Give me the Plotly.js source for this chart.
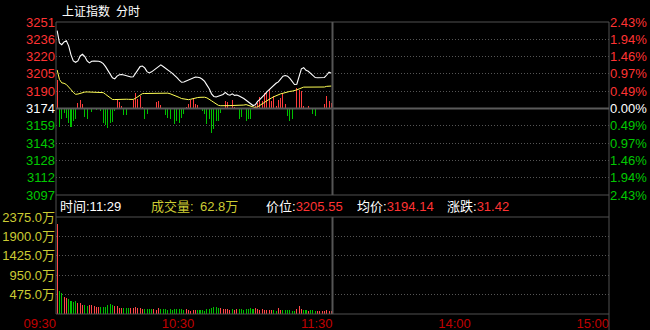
<!DOCTYPE html>
<html><head><meta charset="utf-8">
<script src="https://cdn.plot.ly/plotly-3.0.1.min.js"></script>
<style>html,body{margin:0;padding:0;background:#000;}#c{width:650px;height:330px;}</style>
</head><body><div id="c"></div>
<script>
// ---------- data ----------
const preClose = 3174.13;
const maxPct = 2.43;
const tickSteps = [5,4,3,2,1,0,-1,-2,-3,-4,-5];
const priceTickText = ['3251','3236','3220','3205','3190','3174','3159','3143','3128','3112','3097'];
const pctTickText = ['2.43%','1.94%','1.46%','0.97%','0.49%','0.00%','0.49%','0.97%','1.46%','1.94%','2.43%'];
const timeTickVals = [0,60,120,180,240];
const timeTickText = ['09:30','10:30','11:30','14:00','15:00'];
const volTickVals = [475,950,1425,1900,2375];
const volTickText = ['475.0万','950.0万','1425.0万','1900.0万','2375.0万'];
const volMax = 2375;

const price = [
3243.5,3232.5,3231.0,3233.5,3234.5,3230.0,3222.0,3216.5,3215.3,3216.5,
3221.0,3222.5,3220.5,3216.5,3214.8,3216.3,3216.5,3216.6,3216.2,3215.6,
3214.2,3211.5,3207.8,3204.5,3201.5,3200.5,3203.0,3204.2,3204.5,3204.0,
3203.5,3202.8,3202.2,3202.4,3205.5,3209.5,3211.5,3212.0,3210.3,3207.0,
3205.8,3206.8,3208.5,3209.8,3212.0,3213.0,3211.6,3209.8,3208.3,3207.0,
3205.5,3203.8,3201.6,3199.5,3197.5,3197.8,3198.8,3199.8,3200.9,3201.6,
3202.2,3202.0,3201.5,3200.2,3198.3,3195.0,3191.8,3187.2,3184.9,3184.4,
3185.2,3186.0,3186.6,3188.5,3186.6,3186.0,3187.2,3185.8,3186.2,3185.2,
3184.3,3183.0,3181.5,3180.0,3178.5,3176.8,3177.5,3180.5,3182.3,3184.0,
3186.5,3189.0,3191.0,3193.0,3195.3,3196.6,3197.8,3200.8,3203.0,3203.6,
3203.0,3201.0,3198.3,3195.5,3195.8,3203.0,3209.5,3210.5,3208.2,3207.3,
3205.5,3203.8,3201.7,3201.5,3201.4,3201.5,3201.8,3204.0,3206.5,3205.55];

const avgPrice = [
3208.5,3200.0,3197.0,3196.6,3195.5,3193.5,3191.0,3188.5,3186.8,3187.0,
3187.8,3188.7,3188.8,3188.9,3188.9,3188.8,3188.7,3188.6,3188.6,3188.5,
3188.3,3186.8,3185.0,3183.3,3182.2,3182.1,3182.2,3182.6,3182.8,3182.6,
3182.4,3182.3,3182.2,3182.2,3183.2,3184.5,3186.3,3187.4,3187.5,3187.5,
3187.4,3187.6,3187.8,3187.9,3188.0,3188.0,3187.9,3187.9,3187.8,3187.3,
3186.6,3185.8,3184.9,3184.0,3183.0,3182.6,3182.2,3182.0,3182.4,3183.1,
3183.7,3183.9,3184.1,3184.3,3184.2,3183.6,3182.6,3181.0,3179.6,3178.2,
3176.9,3176.6,3176.5,3176.6,3176.7,3176.7,3176.8,3176.8,3176.8,3176.8,
3176.8,3177.2,3177.6,3177.0,3176.3,3175.4,3174.9,3175.6,3176.7,3178.0,
3179.6,3181.0,3182.5,3183.5,3184.6,3185.6,3186.4,3187.2,3187.7,3188.3,
3189.2,3189.4,3189.6,3190.0,3190.7,3191.6,3192.7,3193.2,3193.2,3193.2,
3193.1,3193.0,3192.9,3192.8,3192.7,3192.9,3193.3,3193.9,3194.2,3194.14];

const breadth = [
29,-18,-10,-4,-9,-14,-18,-12,-10,6,
9,5,-8,-10,0,-3,0,-1,0,-2,
-14,-16,-19,-14,-13,-2,9,7,3,-6,
-6,0,0,9,16,10,13,2,-10,-5,
0,0,0,7,8,4,0,-6,-9,-10,
0,-15,-12,-14,-9,-5,2,5,9,11,
5,4,0,-2,-5,-15,-10,-24,-20,-12,
-12,-4,0,8,7,0,9,2,0,-10,
-8,0,-12,-10,-10,0,3,6,12,8,
16,17,19,8,13,3,9,11,16,5,
-7,-12,-10,0,21,19,18,3,0,3,
0,-5,-7,0,0,0,5,13,8,6];

const volume = [
2203,563,522,424,400,367,318,302,318,269,
269,220,220,204,220,220,204,171,171,171,
171,171,220,245,228,204,204,147,147,147,
147,147,147,147,171,147,147,130,122,122,
122,122,122,106,147,122,122,122,98,122,
98,122,122,122,122,98,122,98,82,98,
98,98,98,98,73,122,122,147,171,171,
147,147,122,122,122,98,122,98,122,122,
122,98,122,122,147,122,147,122,98,122,
98,98,98,98,98,73,147,98,98,98,
98,98,73,73,122,196,122,98,98,73,
98,98,73,73,73,73,73,98,73,73];
const volumeUp = [
1,0,0,1,1,0,0,0,0,1,
1,1,0,0,1,1,1,1,1,0,
0,0,0,0,0,1,1,1,1,0,
0,0,1,1,1,1,1,1,0,0,
0,0,1,1,1,0,0,0,0,0,
0,0,0,0,0,0,1,1,1,1,
1,0,0,0,0,0,0,0,0,0,
0,1,1,1,1,1,0,1,1,0,
0,0,0,0,0,0,1,1,1,1,
1,1,1,1,0,0,1,1,0,0,
0,0,0,0,1,1,1,0,0,1,
0,0,0,1,1,1,1,1,1,1];

const infoTime = '11:29';
const infoVol = '62.8万';
const infoPrice = '3205.55';
const infoAvg = '3194.14';
const infoChange = '31.42';
const titleName = '上证指数';
const titleMode = '分时';

// ---------- styles ----------
const W = 650, H = 330;
const L = 56, R = 609, PT = 22, PB = 195, VT = 217, VB = 314, MID = 332.5;
const RED = '#ff3333', GREEN = '#00c800', WHITE = '#ffffff', GRAY = '#505050';
const VOLTXT = '#cccc33', TIMETXT = '#c00000';
const GRID = '#555555', GRIDDASH = '1px,2px';
const FONT = '"Liberation Sans", Arial, "Noto Sans CJK SC", sans-serif';
const CJK = '"Noto Sans CJK SC", "Liberation Sans", sans-serif';
const px = x => x / W, py = y => 1 - y / H;

const step = preClose * maxPct / 100 / 5;
const priceTickVals = tickSteps.map(k => preClose + k * step);
const colorFor = k => k > 0 ? RED : (k < 0 ? GREEN : WHITE);
const span = (c, t) => '<span style="color:' + c + '">' + t + '</span>';
const leftTicks = priceTickText.map((t, j) => span(colorFor(tickSteps[j]), t));
const rightTicks = pctTickText.map((t, j) => span(colorFor(tickSteps[j]), t));
const xs = price.map((_, i) => i + 0.5);
const halfPx = (PB - PT) / 2;

const traces = [
  {type:'bar', x: xs, y: breadth, xaxis:'x', yaxis:'y', width:0.45,
   marker:{color: breadth.map(v => v >= 0 ? '#ff3c3c' : '#00c000'), line:{width:0}}, hoverinfo:'skip'},
  {type:'scatter', mode:'lines', x: xs, y: avgPrice, xaxis:'x', yaxis:'y2',
   line:{color:'#ffff55', width:1}, hoverinfo:'skip'},
  {type:'scatter', mode:'lines', x: xs, y: price, xaxis:'x', yaxis:'y2',
   line:{color:'#ffffff', width:1.1}, hoverinfo:'skip'},
  {type:'scatter', mode:'lines', x:[0], y:[0], xaxis:'x', yaxis:'y3', hoverinfo:'skip', showlegend:false, line:{width:0}},
  {type:'bar', x: xs, y: volume, xaxis:'x', yaxis:'y4', width:0.45,
   marker:{color: volumeUp.map(u => u ? '#ff4848' : '#00c000'), line:{width:0}}, hoverinfo:'skip'}
];

const lineShape = (x0, y0, x1, y1, w, c) => ({type:'line', xref:'paper', yref:'paper',
  x0: px(x0), y0: py(y0), x1: px(x1), y1: py(y1), line:{color: c || GRAY, width: w || 1}, layer:'above'});

const ann = (x, y, text, color, font, size) => ({xref:'paper', yref:'paper', x: px(x), y: py(y),
  xanchor:'left', yanchor:'middle', showarrow:false, text: text,
  font:{family: font || FONT, size: size || 13, color: color}});

const layout = {
  width: W, height: H, margin:{l:0, r:0, t:0, b:0},
  paper_bgcolor:'#000', plot_bgcolor:'#000', showlegend:false, bargap:0,
  xaxis:{domain:[px(L), px(R)], range:[0, 240], anchor:'y4', fixedrange:true,
    tickmode:'array', tickvals: timeTickVals, ticktext: timeTickText, ticklabelposition:'outside left',
    tickfont:{family: FONT, size: 13, color: TIMETXT}, ticks:'', showgrid:false, zeroline:false, showline:false},
  yaxis:{domain:[py(PB), py(PT)], range:[-halfPx, halfPx], visible:false, anchor:'x', fixedrange:true},
  yaxis2:{overlaying:'y', side:'left', anchor:'x', range:[priceTickVals[10], priceTickVals[0]],
    tickmode:'array', tickvals: priceTickVals, ticktext: leftTicks,
    tickfont:{family: FONT, size: 13}, ticks:'', showgrid:true, gridcolor: GRID, griddash: GRIDDASH, gridwidth:1,
    zeroline:false, showline:false, fixedrange:true},
  yaxis3:{overlaying:'y', side:'right', anchor:'x', range:[priceTickVals[10], priceTickVals[0]],
    tickmode:'array', tickvals: priceTickVals, ticktext: rightTicks,
    tickfont:{family: FONT, size: 13}, ticks:'', showgrid:false, zeroline:false, showline:false, fixedrange:true},
  yaxis4:{domain:[py(VB), py(VT)], anchor:'x', range:[0, volMax],
    tickmode:'array', tickvals: volTickVals, ticktext: volTickText,
    tickfont:{family: FONT, size: 13, color: VOLTXT}, ticks:'', showgrid:true, gridcolor: GRID, griddash: GRIDDASH,
    zeroline:false, showline:false, fixedrange:true},
  shapes:[
    lineShape(L, PT, R, PT), lineShape(L, PB, R, PB), lineShape(L, VT, R, VT), lineShape(L, VB, R, VB),
    lineShape(L, PT, L, VB), lineShape(R, PT, R, H),
    lineShape(L, 108.5, R, 108.5, 2, '#5a5a5a'),
    lineShape(MID, PT, MID, PB, 2, '#555'), lineShape(MID, VT, MID, VB, 2, '#555')
  ],
  annotations:[
    ann(60, 11, titleName, WHITE, CJK, 12),
    ann(114, 11, titleMode, WHITE, CJK, 12),
    ann(58, 206, '时间:' + infoTime, WHITE),
    ann(149, 206, '成交量:', VOLTXT),
    ann(198, 206, infoVol, VOLTXT),
    ann(264, 206, '价位:' + span(RED, infoPrice), WHITE),
    ann(355, 206, '均价:' + span(RED, infoAvg), WHITE),
    ann(445, 206, '涨跌:' + span(RED, infoChange), WHITE)
  ]
};

Plotly.newPlot('c', traces, layout, {staticPlot:true, displayModeBar:false});
</script></body></html>
